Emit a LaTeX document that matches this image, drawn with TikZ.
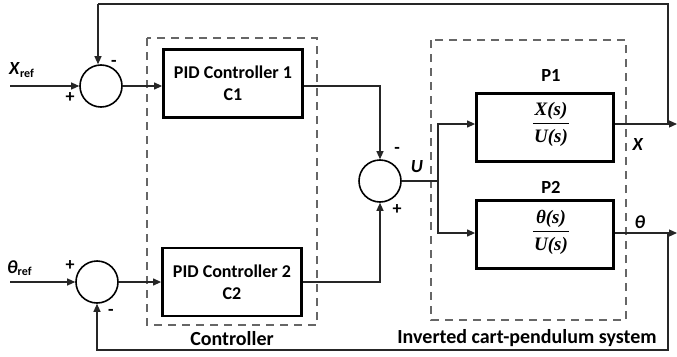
\documentclass[tikz,border=0pt]{standalone}
\usepackage{fontspec}
\setmainfont{Carlito}
\newfontfamily\fracfont{Liberation Serif}
\usetikzlibrary{arrows.meta,calc}
\tikzset{
  blk/.style={draw,line width=2.8pt,minimum width=139pt,minimum height=68pt,align=center,font=\bfseries\fontsize{18}{22}\selectfont},
  pblk/.style={draw,line width=2.8pt,minimum width=137pt,minimum height=68pt},
  frt/.style={font=\fracfont\bfseries\itshape\fontsize{19}{20}\selectfont,inner sep=1pt},
  fbar/.style={line width=1pt},
  sumc/.style={draw,circle,line width=1.6pt,minimum size=42pt,inner sep=0pt},
  wire/.style={line width=1.2pt,draw=black!85},
  arr/.style={wire,-{Triangle[length=8pt,width=7pt]}},
  grp/.style={draw=black!60,line width=1.3pt,dash pattern=on 8pt off 6pt},
  lbl/.style={font=\bfseries\fontsize{20}{24}\selectfont},
  plbl/.style={font=\bfseries\fontsize{18.5}{22}\selectfont},
  sgn/.style={font=\bfseries\fontsize{18}{20}\selectfont},
}
\begin{document}
\begin{tikzpicture}[x=1pt,y=-1pt]
\useasboundingbox (0,0) rectangle (677,356);
% group boxes
\draw[grp] (147,38) rectangle (317,325);
\draw[grp] (431,40) rectangle (626,320);
\node[lbl] (lc) at (232,339) {Controller};
\node[lbl] (lp) at (527,338) {Inverted cart-pendulum system};
% sums
\node[sumc] (s1) at (101,86) {};
\node[sumc] (s2) at (97,282) {};
\node[sumc] (s3) at (380,181) {};
% blocks
\node[blk] (c1) at (233,83.5) {PID Controller 1\\C1};
\node[blk] (c2) at (232,282) {PID Controller 2\\C2};
\node[pblk] (pa) at (545,127.5) {};
\node[pblk] (pb) at (545,234.5) {};
\node[frt] (pan) at (551,111) {X(s)};
\node[frt] (pad) at (551,138) {U(s)};
\coordinate (pam) at (551,123.5);
\draw[fbar] (pam -| pad.west) -- (pam -| pad.east);
\node[frt] (pbn) at (551,219) {θ(s)};
\node[frt] (pbd) at (551,246) {U(s)};
\coordinate (pbm) at (551,231.5);
\draw[fbar] (pbm -| pbd.west) -- (pbm -| pbd.east);
\node[plbl] (lp1) at (551,75) {P1};
\node[plbl] (lp2) at (551,187) {P2};
% inputs
\coordinate (xin) at (10,86);
\coordinate (tin) at (10,282);
\node[plbl,anchor=west,inner sep=0pt] (xr) at (9,70) {\textit{X}\textsubscript{\fontsize{12}{12}\selectfont ref}};
\node[plbl,anchor=west,inner sep=0pt] (tr) at (7,268) {\textit{θ}\textsubscript{\fontsize{12}{12}\selectfont ref}};
\draw[arr] (xin) -- (s1.west);
\draw[arr] (tin) -- (s2.west);
\draw[arr] (s1.east) -- (c1.west |- s1.east);
\draw[arr] (s2.east) -- (c2.west |- s2.east);
% controller outputs to s3
\draw[arr] (c1.east |- s1.east) -| (s3.north);
\draw[arr] (c2.east) -| (s3.south);
% U branch
\coordinate (br) at (438,181);
\node[plbl] (lu) at (417,167) {\textit{U}};
\draw[wire] (s3.east) -- (br);
\draw[arr] (br) |- (pa.west |- 0,124);
\draw[arr] (br) |- (pb.west |- 0,233);
% outputs
\coordinate (xo) at (677,124);
\coordinate (to) at (677,233);
\draw[arr] (pa.east |- xo) -- (xo);
\draw[arr] (pb.east |- to) -- (to);
\node[plbl] (lx) at (638,144) {\textit{X}};
\node[plbl] (lt) at (640,222) {\textit{θ}};
% feedback
\coordinate (fx) at (668,124);
\coordinate (ft) at (668,233);
\coordinate (tp) at (668,4);
\coordinate (bt) at (668,350);
\coordinate (s1in) at (98,4);
\draw[wire] (fx) -- (tp) -- (s1in);
\draw[arr] (s1in) -- (s1.north -| s1in);
\draw[arr] (ft) -- (bt) -| (s2.south);
% signs
\node[sgn] (m1) at (114,63) {-};
\node[sgn] (p1s) at (70,98) {+};
\node[sgn] (p2s) at (70,266) {+};
\node[sgn] (m2) at (111,312) {-};
\node[sgn] (m3) at (397,150) {-};
\node[sgn] (p3s) at (397,210) {+};
\end{tikzpicture}
\end{document}
